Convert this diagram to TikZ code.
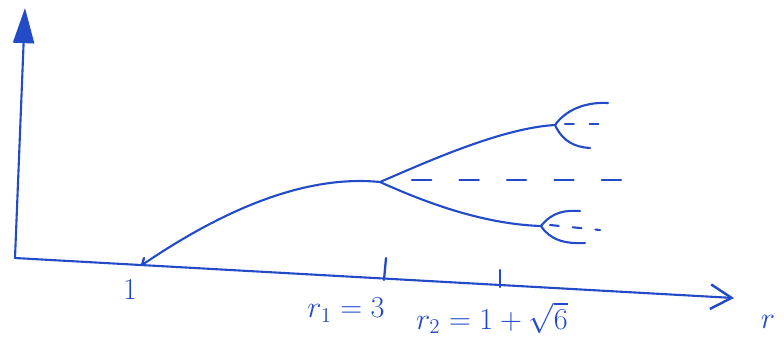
\documentclass[tikz,border=0pt]{standalone}
\usetikzlibrary{arrows.meta,calc}
\definecolor{pen}{RGB}{35,75,200}
\begin{document}
\begin{tikzpicture}[x=.02cm,y=-.02cm,line width=1.2pt,line cap=round,color=pen,font=\fontsize{17}{20}\selectfont]
\useasboundingbox (0,0) rectangle (784,343);
\tikzset{tick/.style={line width=1.3pt},fork/.style={line width=1.2pt}}
% axes
\coordinate (O) at (15,258);
\coordinate (ytop) at (25,8);
\coordinate (xend) at (734,298);
\draw[-{Triangle[length=20pt,width=12pt]}] (O) -- (ytop);
\draw[-{Straight Barb[length=12pt,width=14pt,line width=1.4pt]}] (O) -- (xend);
% ticks
\coordinate (t1) at (142,265);
\coordinate (t2) at (385,272);
\coordinate (t3) at (500,279);
\draw[tick] (t1) -- +(2,-7);
\draw[tick] ($(t2)+(-1,8)$) -- +(2,-22);
\draw[tick] ($(t3)+(0,8)$) -- +(0,-17);
\node (l1) at (130,290) {$1$};
\node (l2) at (346,310) {$r_1=3$};
\node (l3) at (492,318) {$r_2=1+\sqrt{6}$};
\node (lr) at (768,322) {$r$};
% branches
\coordinate (B) at (380,182);
\coordinate (U) at (555,125);
\coordinate (L) at (541,226);
\draw (t1) .. controls (230,205) and (310,175) .. (B);
\draw (B) .. controls (420,165) and (500,128) .. (U);
\draw (B) .. controls (420,200) and (480,224) .. (L);
\draw[dash pattern=on 11pt off 16pt] (412,180) -- (632,180);
\draw[fork] (U) .. controls (568,107) and (590,102) .. (608,103);
\draw[fork] (U) .. controls (563,142) and (575,147) .. (590,148);
\draw[fork,dash pattern=on 5pt off 9pt] (565,124) -- (612,124);
\draw[fork] (L) .. controls (552,212) and (565,210) .. (580,211);
\draw[fork] (L) .. controls (550,240) and (565,244) .. (585,243);
\draw[fork,dash pattern=on 5pt off 8pt] (550,225) -- (600,230);
\end{tikzpicture}
\end{document}
